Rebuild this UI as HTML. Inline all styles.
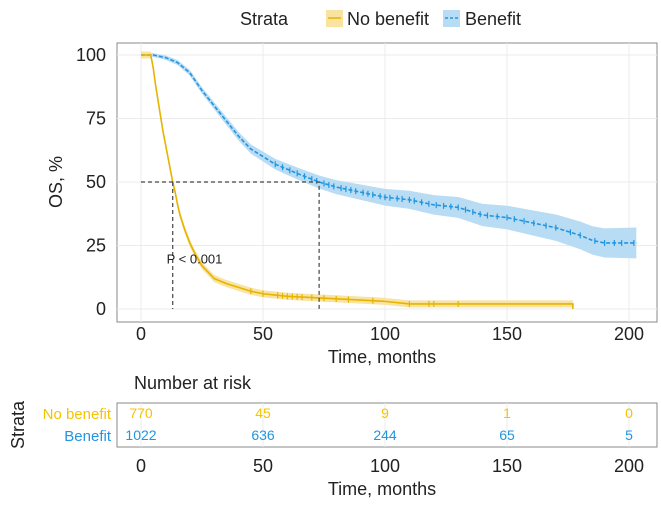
<!DOCTYPE html>
<html><head><meta charset="utf-8"><style>
body{margin:0;background:#fff;font-family:"Liberation Sans",sans-serif}
svg text{font-family:"Liberation Sans",sans-serif}
</style></head><body>
<svg id="c" width="661" height="505" xmlns="http://www.w3.org/2000/svg">
<g>
<text x="240" y="25" font-size="18" fill="#222">Strata</text>
<rect x="326" y="10" width="17" height="17" fill="#f9e3a0"/>
<line x1="328" y1="18" x2="341" y2="18" stroke="#e6b400" stroke-width="1.5"/>
<text x="347" y="25" font-size="18" fill="#222">No benefit</text>
<rect x="443" y="10" width="17" height="17" fill="#b8dcf4"/>
<line x1="445" y1="18" x2="458" y2="18" stroke="#2196e0" stroke-width="1.5" stroke-dasharray="3,2"/>
<text x="465" y="25" font-size="18" fill="#222">Benefit</text>
</g>
<rect x="117" y="43" width="540" height="279" fill="#fff" stroke="#888"/>
<g id="grid"></g>
<g id="marks"></g>
<g id="axes"></g>
<text x="0" y="0" transform="translate(62,182) rotate(-90)" font-size="18" fill="#222" text-anchor="middle">OS, %</text>
<text x="382" y="363" font-size="18" fill="#222" text-anchor="middle">Time, months</text>
<text x="134" y="389" font-size="18" fill="#222">Number at risk</text>
<rect x="117" y="403" width="540" height="44" fill="#fff" stroke="#888"/>
<g id="risk"></g>
<text transform="translate(24,425) rotate(-90)" font-size="18" fill="#222" text-anchor="middle">Strata</text>
<text x="111" y="419" font-size="15" fill="#f5c400" text-anchor="end">No benefit</text>
<text x="111" y="441" font-size="15" fill="#2196e0" text-anchor="end">Benefit</text>
<text x="382" y="495" font-size="18" fill="#222" text-anchor="middle">Time, months</text>
</svg>
<script>
const xTicks=[0,50,100,150,200];
const yTicks=[0,25,50,75,100];
const noBenT=[0,4,5,6,7,8,9,10,11,12,13,14,15,16,18,20,22,25,28,30,35,40,45,50,55,60,70,80,90,100,110,177];
const noBenS=[100,100,95,88,82,76,70,65,60,55,50,46,41,37,31,26,22,17,14,12,10,8.5,7,6,5.5,5,4.5,4,3.5,3,2,2];
const benT=[0,5,10,15,20,25,30,35,40,45,50,55,60,65,73,80,90,100,110,120,130,140,150,160,170,180,185,190,203];
const benS=[100,100,99,97,93,86,80,74,68,63,60,57,55,53,50,48,46,44,43,41,40,37,36,34,32,29,27,26,26];
const censorBen=[55,58,61,64,67,70,72,75,77,79,82,84,86,88,91,93,95,98,100,102,105,107,110,112,115,118,121,124,127,130,133,136,139,142,146,150,153,157,161,166,170,176,180,186,190,194,197,202];
const censorNo=[45,50,56,58,60,62,64,66,70,75,80,85,95,110,118,120,130];
const riskNo=[770,45,9,1,0];
const riskBen=[1022,636,244,65,5];
const medNo=13, medBen=73;
const pText="P < 0.001";
const X=t=>141+t*2.44, Y=s=>309-s*2.54;
const ns="http://www.w3.org/2000/svg";
function mk(p,tag,a){const e=document.createElementNS(ns,tag);for(const k in a)e.setAttribute(k,a[k]);document.getElementById(p).appendChild(e);return e;}
yTicks.forEach(v=>{const l=mk('grid','line',{x1:117,x2:657,y1:Y(v),y2:Y(v),stroke:'#ebebeb'});

const t=mk('axes','text',{x:106,y:Y(v)+6,'font-size':18,fill:'#222','text-anchor':'end'});t.textContent=v;
});
xTicks.forEach(v=>{const l=mk('grid','line',{x1:X(v),x2:X(v),y1:43,y2:322,stroke:'#ebebeb'});

const t=mk('axes','text',{x:X(v),y:340,'font-size':18,fill:'#222','text-anchor':'middle'});t.textContent=v;

const t2=mk('risk','text',{x:X(v),y:472,'font-size':18,fill:'#222','text-anchor':'middle'});t2.textContent=v;

const g=mk('risk','line',{x1:X(v),x2:X(v),y1:403,y2:447,stroke:'#ebebeb'});
});
function interp(T,S,t){for(let i=1;i<T.length;i++){if(t<=T[i]){const f=(t-T[i-1])/(T[i]-T[i-1]);return S[i-1]+f*(S[i]-S[i-1]);}}return S[S.length-1];}
function line(T,S,off){return T.map((t,i)=>(i?'L':'M')+X(t)+','+Y(S[i]+off)).join('');}
function band(T,S,wf){let d=T.map((t,i)=>(i?'L':'M')+X(t)+','+Y(S[i]+wf(t))).join('');for(let i=T.length-1;i>=0;i--)d+=`L${X(T[i])},${Y(S[i]-wf(T[i]))}`;return d+'Z';}
let b=mk('marks','path',{d:band(benT,benS,t=>0.6+t*0.027),fill:'#b8dcf4'});
b=mk('marks','path',{d:band(noBenT,noBenS,t=>1.4),fill:'#f9e3a0'});
b=mk('marks','path',{d:line(benT,benS,0),fill:'none',stroke:'#2196e0','stroke-width':1.6,'stroke-dasharray':'4,2'});
b=mk('marks','path',{d:line(noBenT,noBenS,0)+`V${Y(0)}`,fill:'none',stroke:'#e6b400','stroke-width':1.6});
censorBen.forEach(t=>{const y=Y(interp(benT,benS,t));const c=mk('marks','path',{d:`M${X(t)},${y-3}V${y+3}`,stroke:'#2196e0','stroke-width':1.2});
});
censorNo.forEach(t=>{const y=Y(interp(noBenT,noBenS,t));const c=mk('marks','path',{d:`M${X(t)},${y-3}V${y+3}`,stroke:'#e6b400','stroke-width':1.2});
});
b=mk('marks','path',{d:`M${X(0)},${Y(50)}H${X(medBen)}V${Y(0)}M${X(medNo)},${Y(50)}V${Y(0)}`,fill:'none',stroke:'#444','stroke-dasharray':'4,3','stroke-width':1.2});
const pt=mk('marks','text',{x:X(10.5),y:Y(18),'font-size':13,fill:'#222'});pt.textContent=pText;

xTicks.forEach((v,i)=>{let t=mk('risk','text',{x:X(v),y:418,'font-size':14,fill:'#f5c400','text-anchor':'middle'});t.textContent=riskNo[i];

t=mk('risk','text',{x:X(v),y:440,'font-size':14,fill:'#2196e0','text-anchor':'middle'});t.textContent=riskBen[i];
});
</script>
</body></html>
